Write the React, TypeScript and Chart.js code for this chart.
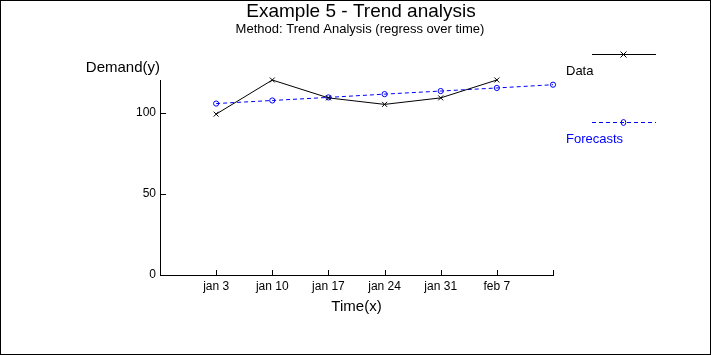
import { useEffect, useRef } from 'react';
import { Chart, registerables } from 'chart.js';

Chart.register(...registerables);

// ---- data ----
const weeks = ['jan 3', 'jan 10', 'jan 17', 'jan 24', 'jan 31', 'feb 7'];
const demand = [99, 120, 109, 105, 109, 120];
const forecasts = [105.5, 107.4, 109.3, 111.3, 113.2, 115.1, 117.1];
const yTickValues = [0, 50, 100];
const titleText = 'Example 5 - Trend analysis';
const subtitleText = 'Method: Trend Analysis (regress over time)';
const xTitle = 'Time(x)';
const yTitle = 'Demand(y)';

const FONT = "'Liberation Sans', Arial, Helvetica, sans-serif";

const decorPlugin = {
  id: 'decor',
  beforeDraw(chart: any) {
    const ctx = chart.ctx;
    ctx.save();
    ctx.fillStyle = '#ffffff';
    ctx.fillRect(0, 0, chart.width, chart.height);
    ctx.restore();
  },
  afterDraw(chart: any) {
    const ctx = chart.ctx;
    const area = chart.chartArea;
    const xs = chart.scales.x;
    const ys = chart.scales.y;
    ctx.save();
    // inner tick marks
    ctx.strokeStyle = '#000';
    ctx.lineWidth = 1;
    ctx.beginPath();
    xs.ticks.forEach((_t: any, i: number) => {
      const px = Math.round(xs.getPixelForTick(i)) + 0.5;
      ctx.moveTo(px, area.bottom);
      ctx.lineTo(px, area.bottom - 5);
    });
    ys.ticks.forEach((t: any) => {
      const py = Math.round(ys.getPixelForValue(t.value)) + 0.5;
      ctx.moveTo(area.left, py);
      ctx.lineTo(area.left + 6, py);
    });
    ctx.stroke();

    // titles
    ctx.fillStyle = '#000';
    ctx.textAlign = 'center';
    ctx.textBaseline = 'middle';
    ctx.font = `19px ${FONT}`;
    ctx.fillText(titleText, 361, 12);
    ctx.font = `13px ${FONT}`;
    ctx.fillText(subtitleText, 360, 29);
    ctx.font = `15px ${FONT}`;
    ctx.fillText(xTitle, (area.left + area.right) / 2, 307);
    ctx.textAlign = 'right';
    ctx.fillText(yTitle, area.left, 68);

    // legend
    const legendRows = [
      { lineY: 54, textY: 71 },
      { lineY: 122, textY: 139 },
    ];
    chart.data.datasets.forEach((ds: any, i: number) => {
      const row = legendRows[i];
      ctx.strokeStyle = ds.borderColor;
      ctx.lineWidth = 1;
      ctx.setLineDash(ds.borderDash || []);
      ctx.beginPath();
      ctx.moveTo(592, row.lineY + 0.5);
      ctx.lineTo(656, row.lineY + 0.5);
      ctx.stroke();
      ctx.setLineDash([]);
      ctx.beginPath();
      if (ds.pointStyle === 'crossRot') {
        ctx.moveTo(620.5, row.lineY - 2.5);
        ctx.lineTo(626.5, row.lineY + 3.5);
        ctx.moveTo(626.5, row.lineY - 2.5);
        ctx.lineTo(620.5, row.lineY + 3.5);
      } else {
        ctx.ellipse(623.5, row.lineY + 0.5, 2.3, 3, 0, 0, Math.PI * 2);
      }
      ctx.stroke();
      ctx.fillStyle = ds.borderColor;
      ctx.textAlign = 'left';
      ctx.font = `13px ${FONT}`;
      ctx.fillText(ds.label, 566, row.textY);
    });

    // outer frame
    ctx.strokeStyle = '#000';
    ctx.lineWidth = 2;
    ctx.strokeRect(0, 0, chart.width, chart.height);
    ctx.restore();
  },
};

export default function App() {
  const ref = useRef<HTMLCanvasElement | null>(null);

  useEffect(() => {
    document.body.style.margin = '0';
    const canvas = ref.current;
    if (!canvas) return;
    const labels = ['', ...weeks, ''];
    const chart = new Chart(canvas, {
      type: 'line',
      data: {
        labels,
        datasets: [
          {
            label: 'Data',
            data: [null, ...demand, null],
            borderColor: '#000000',
            backgroundColor: '#000000',
            borderWidth: 1,
            pointStyle: 'crossRot',
            pointRadius: 3.5,
            pointBorderWidth: 1,
            tension: 0,
            clip: false,
          } as any,
          {
            label: 'Forecasts',
            data: [null, ...forecasts],
            borderColor: '#0000ff',
            backgroundColor: 'rgba(0,0,0,0)',
            borderWidth: 1,
            borderDash: [4, 3],
            pointStyle: 'circle',
            pointRadius: 2.6,
            pointBorderWidth: 1,
            tension: 0,
            clip: false,
          } as any,
        ],
      },
      options: {
        responsive: false,
        animation: false,
        devicePixelRatio: 1,
        layout: { padding: { left: 100, right: 158, top: 80, bottom: 35 } },
        plugins: {
          legend: { display: false },
          title: { display: false },
          tooltip: { enabled: false },
        },
        scales: {
          x: {
            type: 'category',
            offset: false,
            grid: { display: false, drawTicks: false },
            border: { display: true, color: '#000', width: 1 },
            ticks: {
              autoSkip: false,
              maxRotation: 0,
              padding: 4,
              color: '#000',
              font: { family: FONT, size: 12 },
            },
            afterFit: (scale: any) => {
              scale.height = 45;
            },
          },
          y: {
            type: 'linear',
            min: 0,
            max: 120,
            grid: { display: false, drawTicks: false },
            border: { display: true, color: '#000', width: 1 },
            ticks: {
              padding: 4,
              color: '#000',
              font: { family: FONT, size: 12 },
            },
            afterBuildTicks: (scale: any) => {
              scale.ticks = yTickValues.map((value) => ({ value }));
            },
            afterFit: (scale: any) => {
              scale.width = 60;
            },
          },
        },
      },
      plugins: [decorPlugin],
    });
    return () => chart.destroy();
  }, []);

  return <canvas ref={ref} width={711} height={355} style={{ display: 'block' }} />;
}
